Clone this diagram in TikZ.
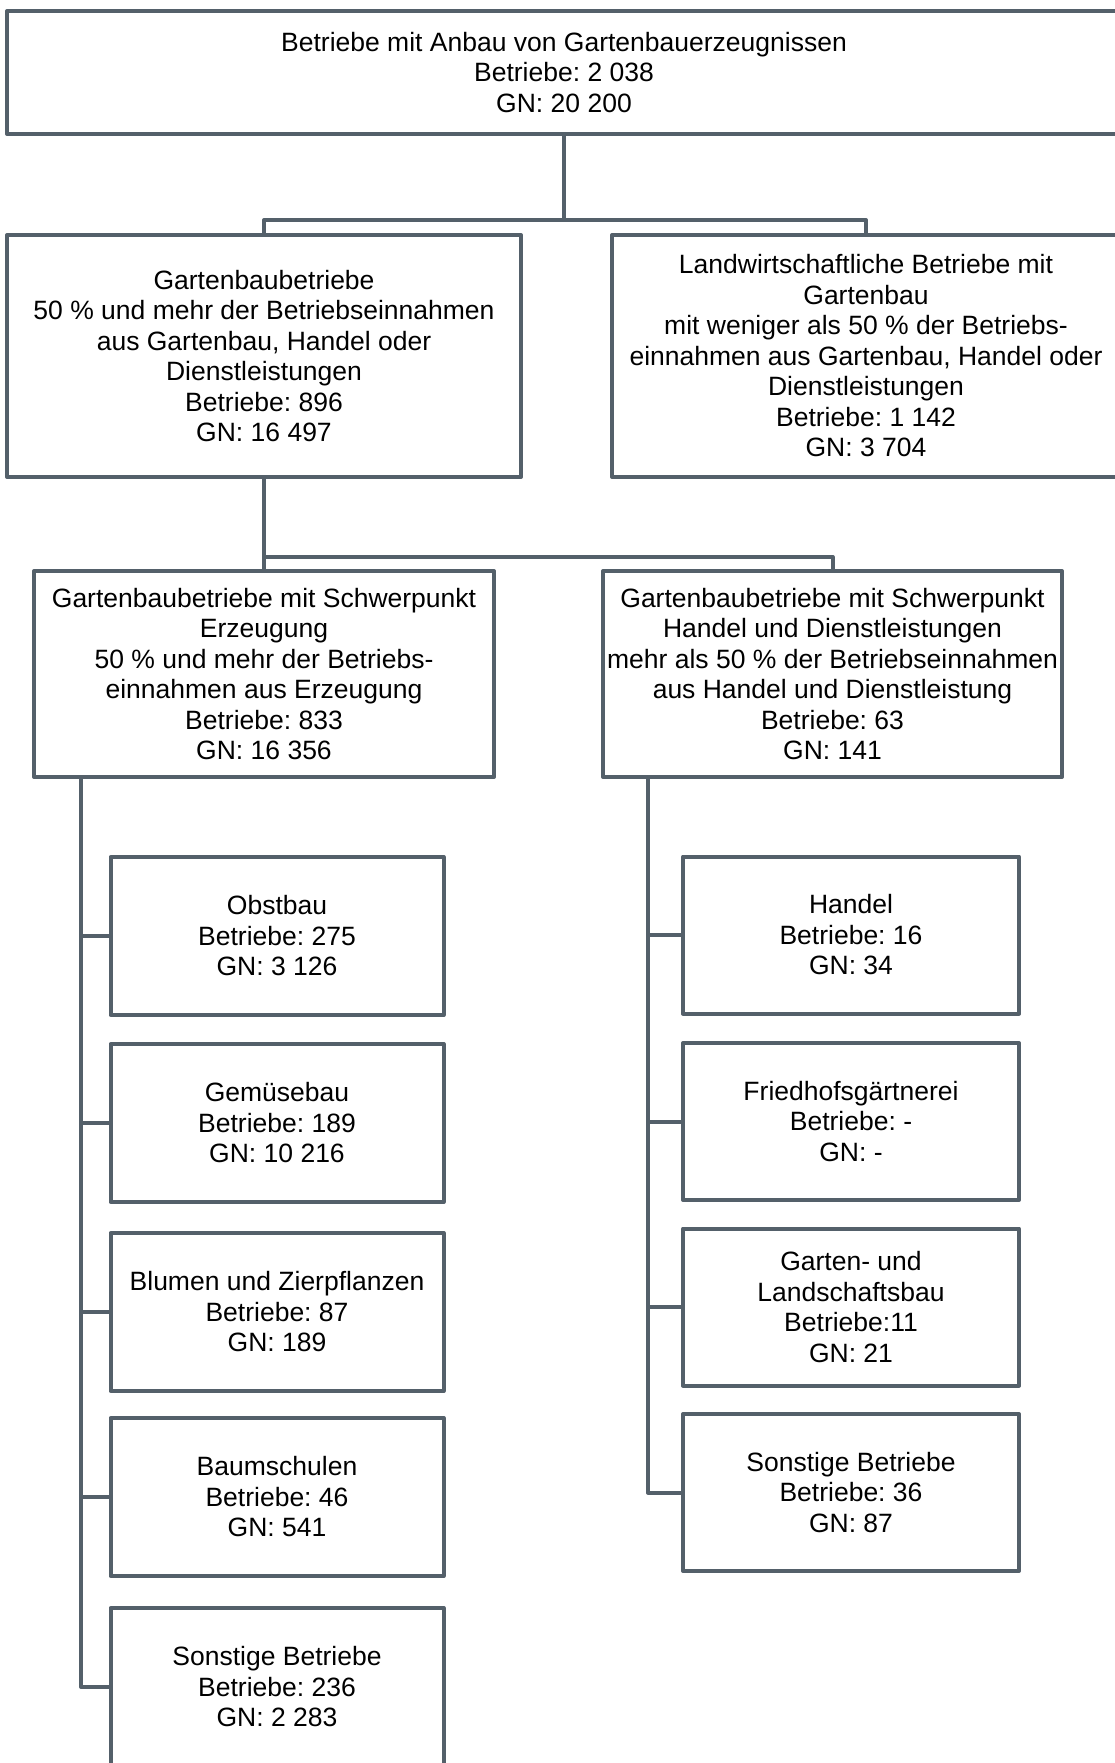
\documentclass[tikz,border=0pt]{standalone}
\usepackage{fontspec}
\setmainfont{Liberation Sans}
\frenchspacing
\definecolor{boxline}{RGB}{84,96,106}
\begin{document}
\begin{tikzpicture}[x=1pt,y=-1pt,
  every node/.style={font=\fontsize{26.5}{30.5}\selectfont\frenchspacing, text=black},
  orgbox/.style={draw=boxline, line width=4pt, rectangle, fill=white, align=center, inner sep=0pt, line join=round},
  link/.style={draw=boxline, line width=4pt, line join=round}]
\useasboundingbox (0,0) rectangle (1115,1763);
\clip (0,0) rectangle (1115,1763);
\fill[white] (0,0) rectangle (1115,1763);

% level 1
\node[orgbox, minimum width=1114pt, minimum height=123pt] (top) at (564,72.5)
  {Betriebe mit Anbau von Gartenbauerzeugnissen\\Betriebe: 2 038\\GN: 20 200};

% level 2
\node[orgbox, minimum width=514pt, minimum height=242pt] (l2a) at (264,356)
  {Gartenbaubetriebe\\50 \% und mehr der Betriebseinnahmen\\aus Gartenbau, Handel oder\\Dienstleistungen\\Betriebe: 896\\GN: 16 497};
\node[orgbox, minimum width=508pt, minimum height=242pt] (l2b) at (866,356)
  {Landwirtschaftliche Betriebe mit\\Gartenbau\\mit weniger als 50 \% der Betriebs-\\einnahmen aus Gartenbau, Handel oder\\Dienstleistungen\\Betriebe: 1 142\\GN: 3 704};

% level 3
\node[orgbox, minimum width=460pt, minimum height=206pt] (l3a) at (264,674)
  {Gartenbaubetriebe mit Schwerpunkt\\Erzeugung\\50 \% und mehr der Betriebs-\\einnahmen aus Erzeugung\\Betriebe: 833\\GN: 16 356};
\node[orgbox, minimum width=459pt, minimum height=206pt] (l3b) at (832.5,674)
  {Gartenbaubetriebe mit Schwerpunkt\\Handel und Dienstleistungen\\mehr als 50 \% der Betriebseinnahmen\\aus Handel und Dienstleistung\\Betriebe: 63\\GN: 141};

% level 4 left
\node[orgbox, minimum width=333pt, minimum height=158pt] (a1) at (277,936) {Obstbau\\Betriebe: 275\\GN: 3 126};
\node[orgbox, minimum width=333pt, minimum height=158pt] (a2) at (277,1123) {Gemüsebau\\Betriebe: 189\\GN: 10 216};
\node[orgbox, minimum width=333pt, minimum height=158pt] (a3) at (277,1312) {Blumen und Zierpflanzen\\Betriebe: 87\\GN: 189};
\node[orgbox, minimum width=333pt, minimum height=158pt] (a4) at (277,1497) {Baumschulen\\Betriebe: 46\\GN: 541};
\node[orgbox, minimum width=333pt, minimum height=158pt] (a5) at (277,1687) {Sonstige Betriebe\\Betriebe: 236\\GN: 2 283};

% level 4 right
\node[orgbox, minimum width=336pt, minimum height=157pt] (b1) at (851,935) {Handel\\Betriebe: 16\\GN: 34};
\node[orgbox, minimum width=336pt, minimum height=157pt] (b2) at (851,1121.5) {Friedhofsgärtnerei\\Betriebe: -\\GN: -};
\node[orgbox, minimum width=336pt, minimum height=157pt] (b3) at (851,1307) {Garten- und\\Landschaftsbau\\Betriebe:11\\GN: 21};
\node[orgbox, minimum width=336pt, minimum height=157pt] (b4) at (851,1492.5) {Sonstige Betriebe\\Betriebe: 36\\GN: 87};

% connectors level 1 -> 2
\coordinate (bus1) at (564,220);
\draw[link] (top.south) -- (bus1);
\draw[link] (l2a.north) |- (bus1) -| (l2b.north);

% connectors level 2 -> 3
\coordinate (bus2) at (264,557);
\draw[link] (l2a.south) -- (l3a.north);
\draw[link] (bus2) -| (l3b.north);

% left spine
\coordinate (spa) at (81,777);
\draw[link] (spa) |- (a5.west);
\foreach \n in {a1,a2,a3,a4} \draw[link] (spa |- \n.west) -- (\n.west);

% right spine
\coordinate (spb) at (648,777);
\draw[link] (spb) |- (b4.west);
\foreach \n in {b1,b2,b3} \draw[link] (spb |- \n.west) -- (\n.west);
\end{tikzpicture}
\end{document}
